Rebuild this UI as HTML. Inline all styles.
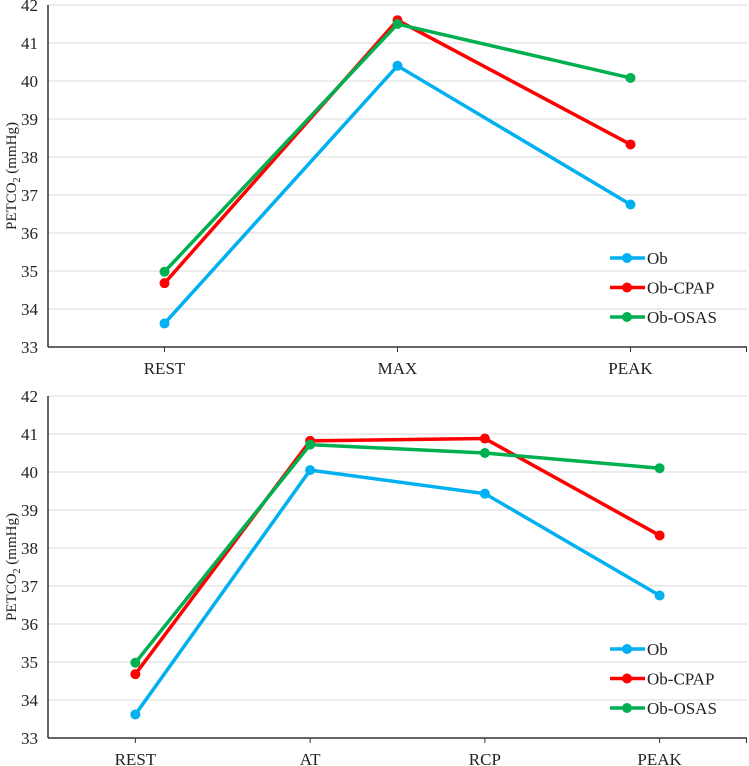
<!DOCTYPE html>
<html><head><meta charset="utf-8"><style>
body{margin:0;background:#fff}
svg{display:block}
svg text{font-family:"Liberation Serif","Times New Roman",serif}
</style></head><body>
<svg id="c" width="749" height="766" font-family="Liberation Serif, serif"></svg>
<script>
const catsTop=["REST","MAX","PEAK"];
const obTop=[33.62,40.4,36.75];
const cpapTop=[34.68,41.6,38.33];
const osasTop=[34.98,41.5,40.08];
const catsBot=["REST","AT","RCP","PEAK"];
const obBot=[33.62,40.05,39.43,36.75];
const cpapBot=[34.68,40.82,40.88,38.33];
const osasBot=[34.98,40.72,40.5,40.1];
const yTicks=[33,34,35,36,37,38,39,40,41,42];
const seriesNames=["Ob","Ob-CPAP","Ob-OSAS"];
const colors=["#00b0f0","#ff0000","#00b050"];
const NS="http://www.w3.org/2000/svg";
const svg=document.getElementById('c');
function el(t,a,p){const e=document.createElementNS(NS,t);for(const k in a)e.setAttribute(k,a[k]);(p||svg).appendChild(e);return e;}
function chart(name,bottom,cats,series){
  const g=el('g',{});
  
  
  const x0=48,x1=747,unit=38;
  const y=v=>bottom-(v-33)*unit;
  const cw=(x1-x0)/cats.length;
  const x=i=>x0+cw*(i+0.5);
  yTicks.forEach(t=>{
    if(t>33){const l=el('line',{x1:x0,x2:x1,y1:y(t),y2:y(t),stroke:'#d9d9d9','stroke-width':1},g);
    }
    const tx=el('text',{x:38,y:y(t)+6,'text-anchor':'end','font-size':17,fill:'#222'},g);tx.textContent=t;
    
  });
  const ax=el('line',{x1:x0,x2:x0,y1:y(42),y2:bottom,stroke:'#333','stroke-width':1.5},g);
  
  const bx=el('line',{x1:x0,x2:x1,y1:bottom,y2:bottom,stroke:'#333','stroke-width':1.5},g);
  
  cats.forEach((c,i)=>{el('line',{x1:x(i),x2:x(i),y1:bottom,y2:bottom+5,stroke:'#333'},g);});
  el('line',{x1:x1-0.5,x2:x1-0.5,y1:bottom,y2:bottom+5,stroke:'#333'},g);
  cats.forEach((c,i)=>{const t=el('text',{x:x(i),y:bottom+27,'text-anchor':'middle','font-size':17,fill:'#222'},g);t.textContent=c;
    });
  const yt=el('text',{transform:`translate(16,${bottom-171}) rotate(-90)`,'text-anchor':'middle','font-size':15,fill:'#222'},g);
  yt.innerHTML='PETCO<tspan font-size="10" dy="4">2</tspan><tspan dy="-4"> (mmHg)</tspan>';
  
  series.forEach((s,k)=>{
    const pts=s.map((v,i)=>x(i)+','+y(v)).join(' ');
    const pl=el('polyline',{points:pts,fill:'none',stroke:colors[k],'stroke-width':3.5},g);
    
    s.forEach((v,i)=>{const c=el('circle',{cx:x(i),cy:y(v),r:5,fill:colors[k]},g);
      });
    const ly=bottom-89+k*29.5;
    const lg=el('g',{},g);
    
    el('line',{x1:610,x2:645,y1:ly,y2:ly,stroke:colors[k],'stroke-width':3.5},lg);
    el('circle',{cx:627,cy:ly,r:5,fill:colors[k]},lg);
    const lt=el('text',{x:647,y:ly+6,'font-size':17,fill:'#222'},lg);lt.textContent=seriesNames[k];
  });
}
chart('top-chart',347,catsTop,[obTop,cpapTop,osasTop]);
chart('bottom-chart',738,catsBot,[obBot,cpapBot,osasBot]);
</script>
</body></html>
